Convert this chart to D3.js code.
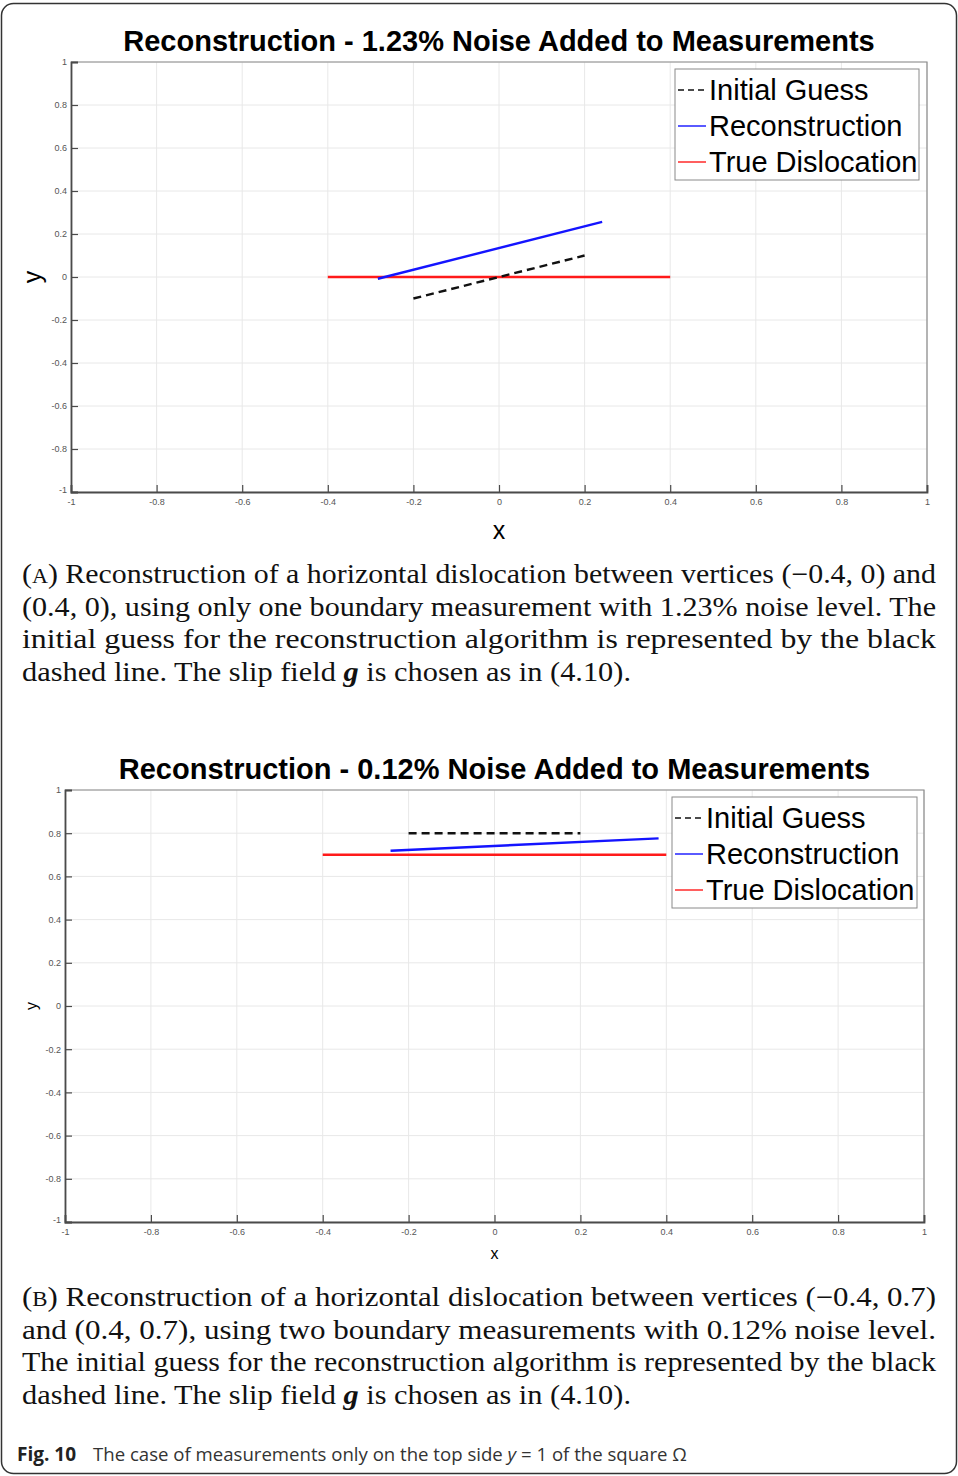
<!DOCTYPE html>
<html>
<head>
<meta charset="utf-8">
<script src="https://cdn.jsdelivr.net/npm/d3@7"></script>
<style>
  body { margin: 0; background: #fff; }
  svg { display: block; }
</style>
</head>
<body>
<svg id="fig" width="958" height="1476"></svg>
<script>
// ---- data ----
var tickValues = [-1, -0.8, -0.6, -0.4, -0.2, 0, 0.2, 0.4, 0.6, 0.8, 1];
var legendLabels = ["Initial Guess", "Reconstruction", "True Dislocation"];
var titles = ["Reconstruction - 1.23% Noise Added to Measurements",
              "Reconstruction - 0.12% Noise Added to Measurements"];

var guessA = [[-0.2, -0.1], [0.2, 0.1]];
var reconA = [[-0.283, -0.008], [0.241, 0.256]];
var trueA = [[-0.4, 0], [0.4, 0]];

var guessB = [[-0.2, 0.8], [0.2, 0.8]];
var reconB = [[-0.242, 0.719], [0.382, 0.776]];
var trueB = [[-0.4, 0.7], [0.4, 0.7]];

var svg = d3.select("#fig");

// page frame
svg.append("rect")
    .attr("x", 1.5).attr("y", 3.5).attr("width", 955).attr("height", 1470)
    .attr("rx", 12).attr("ry", 12)
    .attr("fill", "none").attr("stroke", "#333").attr("stroke-width", 1.5);

function drawPanel(p) {
    var x = d3.scaleLinear().domain([-1, 1]).range([p.left, p.right]),
        y = d3.scaleLinear().domain([-1, 1]).range([p.bottom, p.top]);
    var g = svg.append("g");

    // grid
    g.selectAll(".xg").data(tickValues).enter().append("line")
        .attr("x1", x).attr("x2", x).attr("y1", p.top).attr("y2", p.bottom)
        .attr("stroke", "#e8e8e8").attr("stroke-width", 1);
    g.selectAll(".yg").data(tickValues).enter().append("line")
        .attr("x1", p.left).attr("x2", p.right).attr("y1", y).attr("y2", y)
        .attr("stroke", "#e8e8e8").attr("stroke-width", 1);

    // box top / right
    g.append("path")
        .attr("d", "M" + p.left + "," + p.top + "H" + p.right + "V" + p.bottom)
        .attr("fill", "none").attr("stroke", "#8a8a8a").attr("stroke-width", 1.2);

    // axes, ticks inward
    var fmt = function (d) { return String(+d.toFixed(1)); };
    var xAxis = d3.axisBottom(x).tickValues(tickValues).tickSize(-7).tickPadding(7).tickFormat(fmt);
    var yAxis = d3.axisLeft(y).tickValues(tickValues).tickSize(-7).tickPadding(4).tickFormat(fmt);
    var gx = g.append("g").attr("transform", "translate(0," + p.bottom + ")").call(xAxis);
    var gy = g.append("g").attr("transform", "translate(" + p.left + ",0)").call(yAxis);
    [gx, gy].forEach(function (a) {
        a.select(".domain").attr("stroke", "#4a4a4a").attr("stroke-width", 1.8);
        a.selectAll(".tick line").attr("stroke", "#4a4a4a").attr("stroke-width", 1.2);
        a.selectAll(".tick text").attr("fill", "#555")
            .style("font", "9px 'Liberation Sans', Arial, sans-serif");
    });
    gy.select(".tick:first-of-type text").attr("dy", "0.1em");

    // title + axis labels
    svg.append("text")
        .attr("x", (p.left + p.right) / 2).attr("y", p.top - 11)
        .attr("text-anchor", "middle")
        .style("font", "bold 29px 'Liberation Sans', Arial, sans-serif")
        .text(p.title);
    svg.append("text")
        .attr("x", (p.left + p.right) / 2).attr("y", p.bottom + p.xlabDy)
        .attr("text-anchor", "middle")
        .style("font", p.labSize + "px 'Liberation Sans', Arial, sans-serif")
        .text("x");
    svg.append("text")
        .attr("transform", "translate(" + p.ylabX + "," + y(0) + ") rotate(-90)")
        .attr("text-anchor", "middle")
        .style("font", p.labSize + "px 'Liberation Sans', Arial, sans-serif")
        .text("y");

    // series
    var line = d3.line().x(function (d) { return x(d[0]); }).y(function (d) { return y(d[1]); });
    var series = [
        { d: p.trueLine, c: "#ff1a1a", dash: null },
        { d: p.recon, c: "#1414ff", dash: null },
        { d: p.guess, c: "#111", dash: "8,5" }
    ];
    series.forEach(function (s) {
        g.append("path").attr("d", line(s.d))
            .attr("fill", "none").attr("stroke", s.c).attr("stroke-width", 2.4)
            .attr("stroke-dasharray", s.dash);
    });

    // legend
    var lg = g.append("g");
    lg.append("rect")
        .attr("x", p.leg[0]).attr("y", p.leg[1]).attr("width", p.leg[2]).attr("height", p.leg[3])
        .attr("fill", "#fff").attr("stroke", "#8a8a8a").attr("stroke-width", 1);
    var legCols = ["#111", "#1414ff", "#ff1a1a"];
    legendLabels.forEach(function (lab, i) {
        var cy = p.leg[1] + 21 + i * 36;
        lg.append("line")
            .attr("x1", p.leg[0] + 3).attr("x2", p.leg[0] + 31).attr("y1", cy).attr("y2", cy)
            .attr("stroke", legCols[i]).attr("stroke-width", 1.4)
            .attr("stroke-dasharray", i === 0 ? "6,4" : null);
        lg.append("text")
            .attr("x", p.leg[0] + 34).attr("y", cy + 10)
            .style("font", "29px 'Liberation Sans', Arial, sans-serif")
            .attr("fill", "#000")
            .text(lab);
    });
}

drawPanel({
    left: 71, right: 927, top: 62, bottom: 492,
    title: titles[0], xlabDy: 47, ylabX: 41, labSize: 25,
    guess: guessA, recon: reconA, trueLine: trueA,
    leg: [675, 69, 244, 111]
});
drawPanel({
    left: 65, right: 924, top: 790, bottom: 1222,
    title: titles[1], xlabDy: 37, ylabX: 37, labSize: 16,
    guess: guessB, recon: reconB, trueLine: trueB,
    leg: [672, 797, 245, 111]
});

// ---- captions ----
var serif = "'Liberation Serif', 'Times New Roman', serif";
function captionLine(parts, xPos, yPos, width) {
    var t = svg.append("text").attr("x", xPos).attr("y", yPos)
        .style("font-family", serif).style("font-size", "27px").attr("fill", "#111");
    parts.forEach(function (pt) {
        var s = t.append("tspan").text(pt.t);
        if (pt.sc) s.style("font-size", "20px");
        if (pt.bi) s.style("font-weight", "bold").style("font-style", "italic");
    });
    if (width) t.attr("textLength", width).attr("lengthAdjust", "spacingAndGlyphs");
}

var capA = [
    [[{ t: "(" }, { t: "A", sc: 1 }, { t: ") Reconstruction of a horizontal dislocation between vertices (\u22120.4, 0) and" }], 914],
    [[{ t: "(0.4, 0), using only one boundary measurement with 1.23% noise level.  The" }], 914],
    [[{ t: "initial guess for the reconstruction algorithm is represented by the black" }], 914],
    [[{ t: "dashed line.  The slip field " }, { t: "g", bi: 1 }, { t: " is chosen as in (4.10)." }], 609]
];
capA.forEach(function (l, i) { captionLine(l[0], 22, 583 + i * 32.6, l[1]); });

var capB = [
    [[{ t: "(" }, { t: "B", sc: 1 }, { t: ") Reconstruction of a horizontal dislocation between vertices (\u22120.4, 0.7)" }], 914],
    [[{ t: "and (0.4, 0.7), using two boundary measurements with 0.12% noise level." }], 914],
    [[{ t: "The initial guess for the reconstruction algorithm is represented by the black" }], 914],
    [[{ t: "dashed line.  The slip field " }, { t: "g", bi: 1 }, { t: " is chosen as in (4.10)." }], 609]
];
capB.forEach(function (l, i) { captionLine(l[0], 22, 1306 + i * 32.6, l[1]); });

// figure caption
var sans = "'Open Sans', 'Noto Sans', sans-serif";
svg.append("text").attr("x", 17).attr("y", 1461)
    .style("font-family", sans).style("font-size", "19px").style("font-weight", "bold")
    .attr("fill", "#222").text("Fig. 10");
var fc2 = svg.append("text").attr("x", 93).attr("y", 1461)
    .style("font-family", sans).style("font-size", "19px").attr("fill", "#333");
fc2.append("tspan").text("The case of measurements only on the top side ");
fc2.append("tspan").style("font-style", "italic").text("y");
fc2.append("tspan").text(" = 1 of the square \u03A9");
// shrink to the width of the reference caption
var w = fc2.node().getComputedTextLength();
if (w > 594) fc2.style("font-size", (19 * 594 / w).toFixed(2) + "px");
</script>
</body>
</html>
